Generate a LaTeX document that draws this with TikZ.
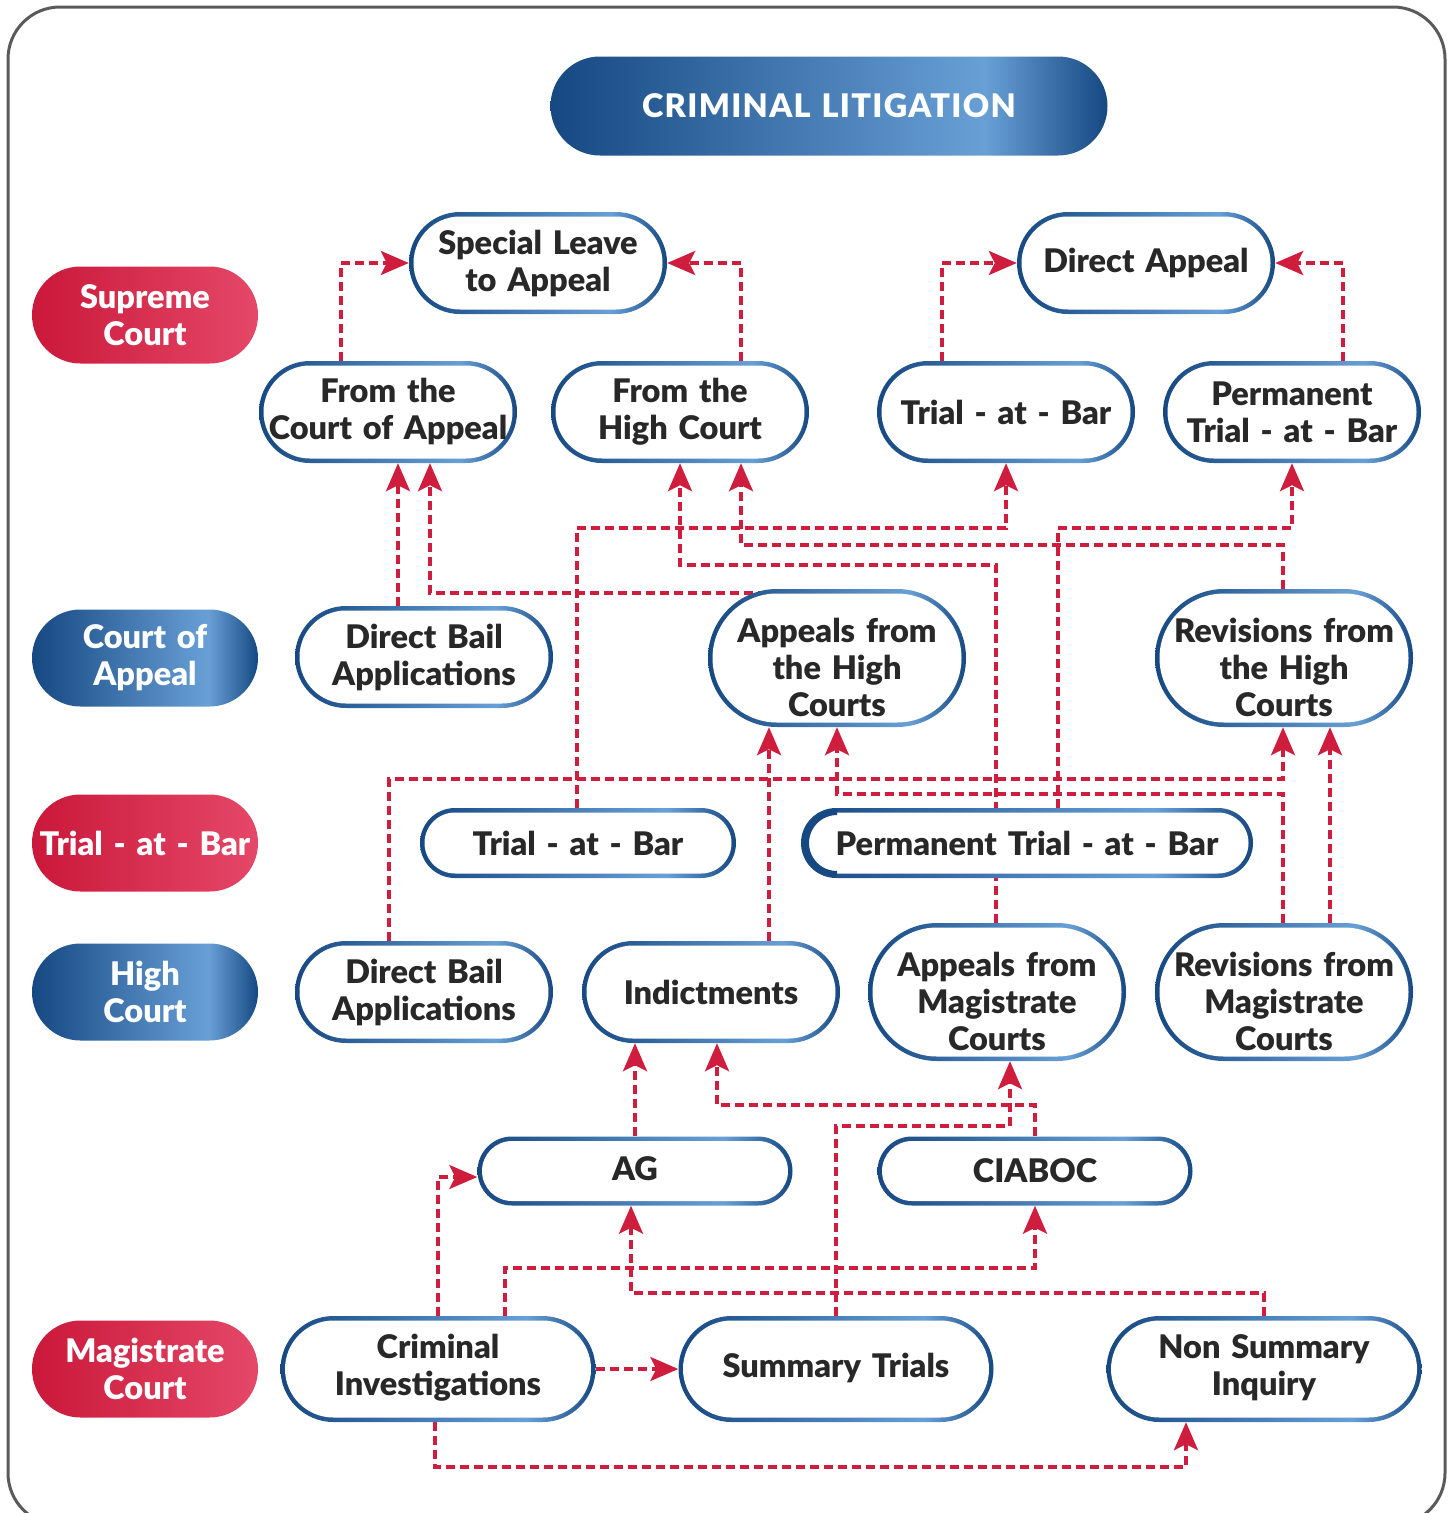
\documentclass[tikz,border=0pt]{standalone}
\usepackage{fontspec}
\setmainfont{Lato}[BoldFont={Lato Black}]
\usetikzlibrary{arrows.meta}
\definecolor{crim}{RGB}{207,30,61}
\definecolor{bdark}{RGB}{22,72,130}
\definecolor{blight}{RGB}{104,160,214}
\definecolor{rdark}{RGB}{202,24,58}
\definecolor{rlight}{RGB}{229,72,104}
\definecolor{txt}{RGB}{40,40,40}
\definecolor{framec}{RGB}{90,90,90}
\pgfdeclarehorizontalshading{bshade}{100bp}{color(0bp)=(bdark); color(25bp)=(bdark); color(64bp)=(blight); color(75bp)=(bdark); color(100bp)=(bdark)}
\pgfdeclarehorizontalshading{rshade}{100bp}{color(0bp)=(rdark); color(25bp)=(rdark); color(75bp)=(rlight); color(100bp)=(rlight)}
\pgfdeclarelayer{bg}
\pgfsetlayers{bg,main}
\newcommand\nodefont{\fontsize{32.5}{37}\selectfont\bfseries}
% name, x, y, width, height, text, text offset upwards
\newcommand\mypill[7]{%
  \pgfmathsetmacro\pW{#4}\pgfmathsetmacro\pH{#5}%
  \pgfmathsetmacro\pR{#5/2}\pgfmathsetmacro\pWi{#4-9}%
  \pgfmathsetmacro\pHi{#5-9}\pgfmathsetmacro\pRi{#5/2-4.5}%
  \node[outerpill, minimum width=\pW pt, minimum height=\pH pt, rounded corners=\pR pt] (#1) at (#2,#3) {};
  \node[innerpill, minimum width=\pWi pt, minimum height=\pHi pt, rounded corners=\pRi pt] at (#1.center) {};
  \node[txtnode, text width=\pWi pt] at ([yshift=#7pt]#1.center) {#6};
}
\newcommand\mylab[7]{%
  \pgfmathsetmacro\pW{#4}\pgfmathsetmacro\pH{#5}%
  \pgfmathsetmacro\pR{#5/2}%
  \node[labpill, shading=#6, minimum width=\pW pt, minimum height=\pH pt, text width=\pW pt, rounded corners=\pR pt] (#1) at (#2,#3) {#7};
}
\tikzset{
  outerpill/.style={rectangle, inner sep=0pt, draw=none, shade, shading=bshade},
  innerpill/.style={rectangle, fill=white, inner sep=0pt, draw=none},
  txtnode/.style={inner sep=0pt, align=center, text=txt, font=\nodefont},
  labpill/.style={rectangle, inner sep=0pt, draw=none, shade, align=center, text=white, font=\nodefont},
  conn/.style={draw=crim, line width=3.5pt, dash pattern=on 9pt off 5pt, -{Stealth[length=28pt,width=24pt,inset=6pt]}},
}
\begin{document}
\begin{tikzpicture}[x=1pt,y=-1pt]
\useasboundingbox (0,0) rectangle (1453,1513);
% title and row labels
\mylab{title}{829}{106}{557}{99}{bshade}{\addfontfeature{LetterSpace=4}CRIMINAL LITIGATION}
\mylab{lsc}{145}{315}{226}{97}{rshade}{Supreme\\Court}
\mylab{lca}{145}{658}{226}{97}{bshade}{Court of\\Appeal}
\mylab{ltb}{145}{843}{226}{97}{rshade}{Trial - at - Bar}
\mylab{lhc}{145}{992}{226}{97}{bshade}{High\\Court}
\mylab{lmc}{145}{1369}{226}{97}{rshade}{Magistrate\\Court}
% nodes
\mypill{SLA}{538}{263}{258}{102}{Special Leave\\to Appeal}{0}
\mypill{DA}{1146}{263}{258}{102}{Direct Appeal}{0}
\mypill{FCA}{388}{412}{258}{102}{From the\\Court of Appeal}{0}
\mypill{FHC}{680}{412}{258}{102}{From the\\High Court}{0}
\mypill{TABa}{1006}{412}{258}{102}{Trial - at - Bar}{0}
\mypill{PTABa}{1292}{412}{258}{102}{Permanent\\Trial - at - Bar}{0}
\mypill{DBAa}{424}{657}{258}{102}{Direct Bail\\Applications}{0}
\mypill{AHC}{837}{658}{258}{138}{Appeals from\\the High\\Courts}{-9}
\mypill{RHC}{1284}{658}{258}{138}{Revisions from\\the High\\Courts}{-9}
\mypill{TABb}{578}{843}{316}{70}{Trial - at - Bar}{0}
\mypill{PTABb}{1027}{843}{452}{70}{Permanent Trial - at - Bar}{0}
\mypill{DBAb}{424}{992}{258}{102}{Direct Bail\\Applications}{0}
\mypill{IND}{711}{992}{258}{102}{Indictments}{0}
\mypill{AMC}{997}{992}{258}{138}{Appeals from\\Magistrate\\Courts}{-9}
\mypill{RMC}{1284}{992}{258}{138}{Revisions from\\Magistrate\\Courts}{-9}
\mypill{AG}{635}{1171}{315}{69}{AG}{2}
\mypill{CIABOC}{1035}{1171}{315}{69}{CIABOC}{0}
\mypill{CI}{438}{1369}{315}{106}{Criminal\\Investigations}{1}
\mypill{ST}{836}{1369}{315}{106}{Summary Trials}{1}
\mypill{NSI}{1264}{1369}{315}{106}{Non Summary\\Inquiry}{1}
% thicker left end of the long pill
\draw[bdark, line width=6pt] (837,812) arc[start angle=90, end angle=270, radius=31pt];
\begin{pgfonlayer}{bg}
\draw[framec, line width=3pt, rounded corners=52pt] (8,7) rectangle (1445,1525);
% supreme court level
\draw[conn] (341,0 |- FCA.north) |- (SLA.west);
\draw[conn] (741,0 |- FHC.north) |- (SLA.east);
\draw[conn] (942,0 |- TABa.north) |- (DA.west);
\draw[conn] (1343,0 |- PTABa.north) |- (DA.east);
% into the upper row
\draw[conn] (398,0 |- DBAa.north) -- (398,0 |- FCA.south);
\draw[conn] (AHC.center |- 0,593) -| (430,0 |- FCA.south);
\draw[conn] (996,0 |- AMC.north) -- (996,565) -| (680,0 |- FHC.south);
\draw[conn] (1283,0 |- RHC.north) -- (1283,545) -| (741,0 |- FHC.south);
\draw[conn] (577,0 |- TABb.north) -- (577,528) -| (1006,0 |- TABa.south);
\draw[conn] (1058,0 |- PTABb.north) -- (1058,528) -| (1292,0 |- PTABa.south);
% into court of appeal row
\draw[conn] (769,0 |- IND.north) -- (769,0 |- AHC.south);
\draw[conn] (1283,0 |- RMC.north) -- (1283,794) -| (837,0 |- AHC.south);
\draw[conn] (389,0 |- DBAb.north) -- (389,779) -| (1283,0 |- RHC.south);
\draw[conn] (1330,0 |- RMC.north) -- (1330,0 |- RHC.south);
% into high court row
\draw[conn] (635,0 |- AG.north) -- (635,0 |- IND.south);
\draw[conn] (1035,0 |- CIABOC.north) -- (1035,1105) -| (717,0 |- IND.south);
\draw[conn] (836,0 |- ST.north) -- (836,1126) -| (1010,0 |- AMC.south);
% into AG / CIABOC
\draw[conn] (1264,0 |- NSI.north) -- (1264,1293) -| (631,0 |- AG.south);
\draw[conn] (505,0 |- CI.north) -- (505,1268) -| (1035,0 |- CIABOC.south);
\draw[conn] (438,0 |- CI.north) |- ([yshift=-6pt]AG.west);
% magistrate level
\draw[conn] (CI.east) -- (ST.west);
\draw[conn] (435,0 |- CI.south) -- (435,1467) -| (1186,0 |- NSI.south);
\end{pgfonlayer}
\end{tikzpicture}
\end{document}
